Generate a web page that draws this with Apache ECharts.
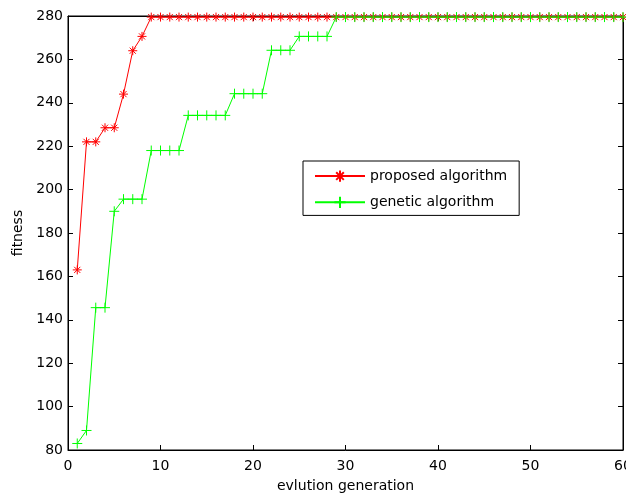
<!DOCTYPE html>
<html>
<head>
<meta charset="utf-8">
<script src="https://cdn.jsdelivr.net/npm/echarts@6/dist/echarts.min.js"></script>
<style>
  html, body { margin: 0; padding: 0; background: #fff; }
  #chart { width: 626px; height: 494px; }
</style>
</head>
<body>
<div id="chart"></div>
<script>
// generations 1..60
const generations = [1,2,3,4,5,6,7,8,9,10,11,12,13,14,15,16,17,18,19,20,
  21,22,23,24,25,26,27,28,29,30,31,32,33,34,35,36,37,38,39,40,
  41,42,43,44,45,46,47,48,49,50,51,52,53,54,55,56,57,58,59,60];

const proposed = [163,222,222,228.5,228.5,244,264,270.6,279.5,279.5,
  279.5,279.5,279.5,279.5,279.5,279.5,279.5,279.5,279.5,279.5,
  279.5,279.5,279.5,279.5,279.5,279.5,279.5,279.5,279.5,279.5,
  279.5,279.5,279.5,279.5,279.5,279.5,279.5,279.5,279.5,279.5,
  279.5,279.5,279.5,279.5,279.5,279.5,279.5,279.5,279.5,279.5,
  279.5,279.5,279.5,279.5,279.5,279.5,279.5,279.5,279.5,279.5];

const genetic = [83,89,145.6,145.6,190,195.6,195.6,195.6,218,218,
  218,218,234.2,234.2,234.2,234.2,234.2,244.2,244.2,244.2,
  244.2,264.2,264.2,264.2,270.6,270.6,270.6,270.6,279.5,279.5,
  279.5,279.5,279.5,279.5,279.5,279.5,279.5,279.5,279.5,279.5,
  279.5,279.5,279.5,279.5,279.5,279.5,279.5,279.5,279.5,279.5,
  279.5,279.5,279.5,279.5,279.5,279.5,279.5,279.5,279.5,279.5];

const seriesNames = ['proposed algorithm', 'genetic algorithm'];

const FONT = 'DejaVu Sans, Arial, sans-serif';
const starPath = 'path://M5 0L5 10M0 5L10 5M1.6 1.6L8.4 8.4M1.6 8.4L8.4 1.6';
const plusPath = 'path://M5 0L5 10M0 5L10 5';

const pairs = (ys) => generations.map((g, i) => [g, ys[i]]);

const chart = echarts.init(document.getElementById('chart'));

const tickStyle = { show: true, inside: true, length: 5, lineStyle: { color: '#000', width: 1 } };

chart.setOption({
  animation: false,
  backgroundColor: '#fff',
  grid: {
    left: 68, top: 16, right: 3, bottom: 44,
    outerBoundsMode: 'none',
    containLabel: false,
    show: true, borderColor: '#000', borderWidth: 1
  },
  legend: {
    data: seriesNames,
    orient: 'vertical',
    left: 303, top: 161,
    padding: [7, 12, 5, 11],
    itemWidth: 50, itemHeight: 14, itemGap: 10,
    borderColor: '#000', borderWidth: 1,
    backgroundColor: '#fff',
    textStyle: { fontFamily: FONT, fontSize: 14, color: '#000' }
  },
  xAxis: [{
    type: 'value', min: 0, max: 60, interval: 10,
    name: 'evlution generation', nameLocation: 'middle', nameGap: 29,
    nameTextStyle: { fontFamily: FONT, fontSize: 14, color: '#000' },
    axisLine: { show: true, onZero: false, lineStyle: { color: '#000', width: 1 } },
    axisTick: tickStyle,
    axisLabel: { fontFamily: FONT, fontSize: 14, color: '#000', margin: 9 },
    splitLine: { show: false }
  }, {
    type: 'value', min: 0, max: 60, interval: 10, position: 'top',
    axisLine: { show: true, onZero: false, lineStyle: { color: '#000', width: 1 } },
    axisTick: tickStyle, axisLabel: { show: false }, splitLine: { show: false }
  }],
  yAxis: [{
    type: 'value', min: 80, max: 280, interval: 20,
    name: 'fitness', nameLocation: 'middle', nameGap: 42,
    nameTextStyle: { fontFamily: FONT, fontSize: 14, color: '#000' },
    axisLine: { show: true, onZero: false, lineStyle: { color: '#000', width: 1 } },
    axisTick: tickStyle,
    axisLabel: { fontFamily: FONT, fontSize: 14, color: '#000', margin: 5 },
    splitLine: { show: false }
  }, {
    type: 'value', min: 80, max: 280, interval: 20, position: 'right',
    axisLine: { show: true, onZero: false, lineStyle: { color: '#000', width: 1 } },
    axisTick: tickStyle, axisLabel: { show: false }, splitLine: { show: false }
  }],
  series: [{
    name: seriesNames[0],
    type: 'line',
    data: pairs(proposed),
    symbol: starPath,
    symbolSize: 9,
    showAllSymbol: true,
    lineStyle: { color: '#ff0000', width: 1 },
    itemStyle: { color: 'none', borderColor: '#ff0000', borderWidth: 1 },
    emphasis: { disabled: true }
  }, {
    name: seriesNames[1],
    type: 'line',
    data: pairs(genetic),
    symbol: plusPath,
    symbolSize: 10,
    showAllSymbol: true,
    lineStyle: { color: '#00ff00', width: 1 },
    itemStyle: { color: 'none', borderColor: '#00ff00', borderWidth: 1 },
    emphasis: { disabled: true }
  }]
});
</script>
</body>
</html>
